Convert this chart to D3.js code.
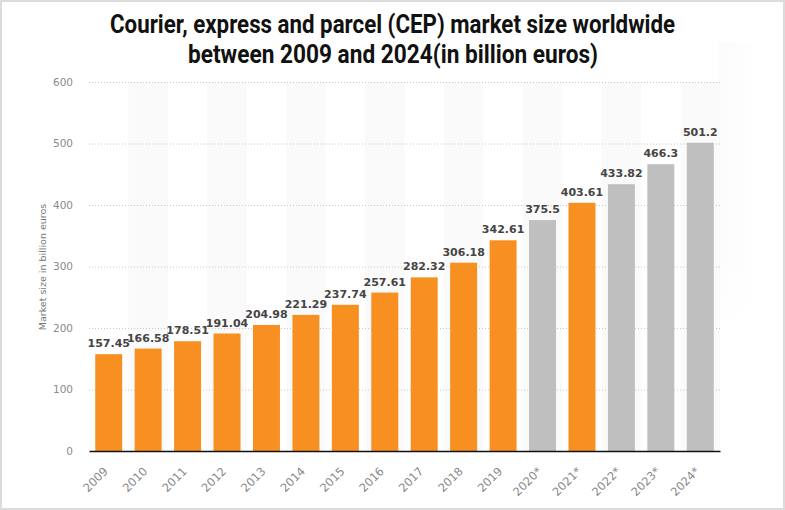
<!DOCTYPE html>
<html lang="en">
<head>
    <meta charset="UTF-8">
    <title>CEP market size worldwide 2009-2024</title>
    <style>
        body {
            margin: 0;
            padding: 0;
            background: #fff;
        }

        .grid line {
            stroke: #c8c8c8;
            stroke-dasharray: 1, 2;
        }

        .axis text {
            font-family: "DejaVu Sans", sans-serif;
            font-size: 10.5px;
            fill: #8a8a8a;
        }

        .x-axis text {
            font-size: 11.5px;
            fill: #888;
        }

        .value-label {
            font-family: "DejaVu Sans", sans-serif;
            font-size: 11px;
            font-weight: bold;
            fill: #454545;
            text-anchor: middle;
        }

        .chart-title {
            font-family: "Roboto", sans-serif;
            font-size: 25px;
            font-weight: bold;
            fill: #111;
            text-anchor: middle;
        }
    </style>
</head>
<body>
    <script src="https://d3js.org/d3.v7.min.js"></script>
    <script>
        // Données du graphique
        const years = ["2009", "2010", "2011", "2012", "2013", "2014", "2015", "2016",
                       "2017", "2018", "2019", "2020*", "2021*", "2022*", "2023*", "2024*"];
        const marketSize = [157.45, 166.58, 178.51, 191.04, 204.98, 221.29, 237.74, 257.61,
                            282.32, 306.18, 342.61, 375.5, 403.61, 433.82, 466.3, 501.2];
        // true = barre grise (prévision)
        const forecast = [false, false, false, false, false, false, false, false,
                          false, false, false, true, false, true, true, true];
        const yTicks = [0, 100, 200, 300, 400, 500, 600];

        const width = 785;
        const height = 510;
        const margin = { top: 82, right: 65, bottom: 59, left: 89 };
        const innerW = width - margin.left - margin.right;
        const innerH = height - margin.top - margin.bottom;

        const svg = d3.select("body").append("svg")
            .attr("width", width)
            .attr("height", height);

        // cadre gris autour de l'image
        svg.append("rect")
            .attr("x", 1)
            .attr("y", 1)
            .attr("width", width - 2)
            .attr("height", height - 2)
            .attr("fill", "none")
            .attr("stroke", "#dcdcdc")
            .attr("stroke-width", 2);

        // petit dégradé blanc/gris à droite du graphique
        const defs = svg.append("defs");
        const grad = defs.append("linearGradient")
            .attr("id", "fade")
            .attr("x1", "0").attr("x2", "1").attr("y1", "0").attr("y2", "0");
        grad.append("stop").attr("offset", "0").attr("stop-color", "#f6f6f8").attr("stop-opacity", 0.9);
        grad.append("stop").attr("offset", "1").attr("stop-color", "#fafafc").attr("stop-opacity", 0.6);
        const gradV = defs.append("linearGradient")
            .attr("id", "fadeV")
            .attr("x1", "0").attr("x2", "0").attr("y1", "0").attr("y2", "1");
        gradV.append("stop").attr("offset", "0").attr("stop-color", "#fff").attr("stop-opacity", 0);
        gradV.append("stop").attr("offset", "1").attr("stop-color", "#fff").attr("stop-opacity", 1);

        svg.append("rect")
            .attr("x", 718)
            .attr("y", 42)
            .attr("width", 34)
            .attr("height", 290)
            .attr("fill", "url(#fade)")
            .attr("opacity", 0.4);
        svg.append("rect")
            .attr("x", 718)
            .attr("y", 250)
            .attr("width", 34)
            .attr("height", 84)
            .attr("fill", "url(#fadeV)");

        // Titre (police condensée simulée avec textLength)
        const title = svg.append("text")
            .attr("class", "chart-title");
        title.append("tspan")
            .attr("x", 392.5).attr("y", 33)
            .attr("textLength", 565)
            .attr("lengthAdjust", "spacingAndGlyphs")
            .text("Courier, express and parcel (CEP) market size worldwide");
        title.append("tspan")
            .attr("x", 393).attr("y", 63)
            .attr("textLength", 410)
            .attr("lengthAdjust", "spacingAndGlyphs")
            .text("between 2009 and 2024(in billion euros)");

        const g = svg.append("g")
            .attr("transform", "translate(" + margin.left + "," + margin.top + ")");

        const xScale = d3.scaleBand()
            .domain(years)
            .range([0, innerW])
            .paddingInner(0.316)
            .paddingOuter(0.158);

        const yScale = d3.scaleLinear()
            .domain([0, 600])
            .range([innerH, 0]);

        // bandes grises alternées
        g.selectAll(".stripe")
            .data(years.filter((d, i) => i % 2 === 1))
            .enter().append("rect")
            .attr("class", "stripe")
            .attr("x", d => xScale(d) - xScale.step() * xScale.paddingInner() / 2)
            .attr("y", 0)
            .attr("width", xScale.step())
            .attr("height", innerH)
            .attr("fill", "#fafafa");

        // lignes de grille
        g.append("g")
            .attr("class", "grid")
            .selectAll("line")
            .data(yTicks.slice(1))
            .enter().append("line")
            .attr("x1", 0)
            .attr("x2", innerW)
            .attr("y1", d => yScale(d) + 0.5)
            .attr("y2", d => yScale(d) + 0.5);

        // axe y
        const yAxis = g.append("g")
            .attr("class", "axis")
            .call(d3.axisLeft(yScale).tickValues(yTicks).tickSize(0).tickPadding(16));
        yAxis.select(".domain").remove();

        // titre de l'axe y
        g.append("text")
            .attr("transform", "rotate(-90)")
            .attr("x", -yScale(300) - 0.5)
            .attr("y", -43)
            .attr("text-anchor", "middle")
            .style("font-family", "DejaVu Sans, sans-serif")
            .style("font-size", "9.5px")
            .style("fill", "#777")
            .text("Market size in billion euros");

        // barres
        g.selectAll(".bar")
            .data(years)
            .enter().append("rect")
            .attr("class", "bar")
            .attr("x", d => xScale(d))
            .attr("width", xScale.bandwidth())
            .attr("y", (d, i) => yScale(marketSize[i]))
            .attr("height", (d, i) => innerH - yScale(marketSize[i]))
            .attr("fill", (d, i) => forecast[i] ? "#bfbfbf" : "#f79021");

        // étiquettes de valeurs
        g.selectAll(".value-label")
            .data(years)
            .enter().append("text")
            .attr("class", "value-label")
            .attr("x", d => xScale(d) + xScale.bandwidth() / 2)
            .attr("y", (d, i) => yScale(marketSize[i]) - 7)
            .text((d, i) => marketSize[i]);

        // axe x
        const xAxis = g.append("g")
            .attr("class", "axis x-axis")
            .attr("transform", "translate(0," + innerH + ")")
            .call(d3.axisBottom(xScale).tickSize(0));
        xAxis.select(".domain")
            .attr("stroke", "#111")
            .attr("stroke-width", 1.5);
        xAxis.selectAll("text")
            .attr("x", 0)
            .attr("y", 0)
            .attr("dy", 0)
            .attr("transform", "translate(0,21) rotate(-45)")
            .style("text-anchor", "end");
    </script>
</body>
</html>
